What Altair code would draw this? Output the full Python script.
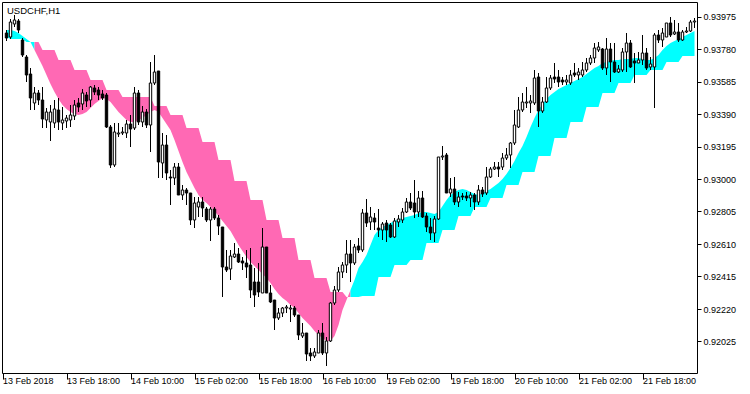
import altair as alt
import pandas as pd

# ---- USDCHF H1 candles (bar 0 = first visible bar) ----
opens = [
0.93876,0.93852,0.93930,0.93948,0.93834,0.93732,0.93630,0.93456,0.93516,0.93474,
0.93354,0.93342,0.93336,0.93414,0.93336,0.93348,0.93354,0.93378,0.93456,0.93450,
0.93504,0.93474,0.93546,0.93534,0.93510,0.93504,0.93312,0.93084,0.93270,0.93276,
0.93276,0.93330,0.93306,0.93516,0.93342,0.93402,0.93324,0.93576,0.93648,0.93096,
0.93204,0.93012,0.93006,0.93072,0.92904,0.92934,0.92916,0.92754,0.92832,0.92862,
0.92820,0.92754,0.92820,0.92766,0.92712,0.92472,0.92460,0.92532,0.92550,0.92508,
0.92496,0.92484,0.92382,0.92382,0.92316,0.92592,0.92316,0.92274,0.92166,0.92196,
0.92226,0.92220,0.92226,0.92184,0.92058,0.92076,0.91956,0.91938,0.91956,0.92076,
0.91956,0.92028,0.92256,0.92334,0.92442,0.92484,0.92550,0.92496,0.92598,0.92574,
0.92796,0.92742,0.92766,0.92706,0.92694,0.92736,0.92724,0.92652,0.92742,0.92754,
0.92802,0.92862,0.92856,0.92802,0.92886,0.92778,0.92712,0.92676,0.92760,0.93132,
0.93144,0.92916,0.92940,0.92862,0.92898,0.92898,0.92886,0.92904,0.92862,0.92934,
0.92916,0.93012,0.93060,0.93072,0.93072,0.93126,0.93144,0.93216,0.93312,0.93414,
0.93456,0.93456,0.93456,0.93612,0.93408,0.93462,0.93546,0.93612,0.93612,0.93594,
0.93582,0.93576,0.93636,0.93624,0.93624,0.93654,0.93696,0.93726,0.93774,0.93780,
0.93666,0.93780,0.93702,0.93642,0.93654,0.93762,0.93816,0.93708,0.93696,0.93714,
0.93756,0.93672,0.93672,0.93864,0.93834,0.93852,0.93936,0.93870,0.93882,0.93834,
0.93882,0.93888,0.93942]
highs = [
0.93894,0.93960,0.93984,0.93960,0.93846,0.93744,0.93666,0.93552,0.93534,0.93552,
0.93426,0.93444,0.93474,0.93486,0.93432,0.93384,0.93444,0.93474,0.93486,0.93540,
0.93522,0.93558,0.93564,0.93552,0.93534,0.93516,0.93324,0.93336,0.93336,0.93312,
0.93354,0.93384,0.93552,0.93534,0.93438,0.93420,0.93702,0.93744,0.93648,0.93276,
0.93264,0.93054,0.93096,0.93096,0.92964,0.92946,0.92916,0.92892,0.92892,0.92892,
0.92832,0.92832,0.92832,0.92784,0.92712,0.92574,0.92574,0.92616,0.92586,0.92532,
0.92574,0.92586,0.92466,0.92496,0.92706,0.92592,0.92364,0.92274,0.92226,0.92232,
0.92244,0.92244,0.92238,0.92184,0.92136,0.92076,0.91986,0.91986,0.92094,0.92136,
0.92052,0.92262,0.92358,0.92472,0.92502,0.92634,0.92634,0.92610,0.92646,0.92820,
0.92880,0.92832,0.92796,0.92820,0.92742,0.92754,0.92736,0.92766,0.92784,0.92826,
0.92886,0.92916,0.92994,0.92928,0.92928,0.92796,0.92766,0.92778,0.93132,0.93198,
0.93156,0.93006,0.93012,0.92922,0.92916,0.92922,0.92922,0.92916,0.92964,0.92952,
0.93072,0.93072,0.93102,0.93102,0.93156,0.93186,0.93222,0.93414,0.93492,0.93516,
0.93552,0.93504,0.93654,0.93636,0.93492,0.93612,0.93624,0.93696,0.93654,0.93612,
0.93624,0.93654,0.93696,0.93666,0.93702,0.93726,0.93744,0.93816,0.93822,0.93786,
0.93846,0.93816,0.93816,0.93684,0.93786,0.93876,0.93834,0.93756,0.93762,0.93864,
0.93786,0.93732,0.93876,0.93894,0.93906,0.93936,0.93972,0.93954,0.93936,0.93894,
0.93912,0.93954,0.93966]
lows = [
0.93828,0.93840,0.93912,0.93876,0.93732,0.93582,0.93414,0.93414,0.93444,0.93306,
0.93306,0.93228,0.93306,0.93294,0.93294,0.93306,0.93312,0.93354,0.93402,0.93414,
0.93432,0.93432,0.93504,0.93474,0.93474,0.93306,0.93066,0.93072,0.93252,0.93264,
0.93246,0.93192,0.93294,0.93324,0.93312,0.93306,0.93162,0.93564,0.93006,0.93006,
0.92994,0.92844,0.92964,0.92904,0.92874,0.92844,0.92724,0.92706,0.92772,0.92772,
0.92742,0.92628,0.92754,0.92664,0.92292,0.92442,0.92394,0.92526,0.92496,0.92454,
0.92406,0.92286,0.92232,0.92292,0.92316,0.92316,0.92256,0.92094,0.92154,0.92172,
0.92196,0.92142,0.92172,0.92034,0.92046,0.91908,0.91908,0.91926,0.91956,0.91944,
0.91878,0.92022,0.92244,0.92322,0.92406,0.92436,0.92382,0.92484,0.92556,0.92562,
0.92712,0.92694,0.92694,0.92652,0.92634,0.92622,0.92646,0.92646,0.92712,0.92736,
0.92796,0.92814,0.92766,0.92772,0.92766,0.92682,0.92634,0.92622,0.92754,0.93114,
0.92916,0.92892,0.92844,0.92832,0.92874,0.92868,0.92832,0.92814,0.92844,0.92892,
0.92904,0.93006,0.93054,0.93012,0.93054,0.93114,0.93066,0.93204,0.93306,0.93402,
0.93426,0.93396,0.93444,0.93312,0.93396,0.93456,0.93534,0.93576,0.93552,0.93564,
0.93564,0.93564,0.93612,0.93594,0.93612,0.93642,0.93684,0.93696,0.93762,0.93654,
0.93624,0.93582,0.93636,0.93636,0.93642,0.93642,0.93666,0.93576,0.93696,0.93684,
0.93654,0.93654,0.93426,0.93816,0.93792,0.93852,0.93852,0.93864,0.93822,0.93828,
0.93876,0.93882,0.93906]
closes = [
0.93846,0.93942,0.93954,0.93894,0.93744,0.93624,0.93486,0.93516,0.93474,0.93360,
0.93402,0.93402,0.93420,0.93342,0.93354,0.93366,0.93384,0.93444,0.93432,0.93516,
0.93468,0.93552,0.93522,0.93504,0.93486,0.93312,0.93084,0.93282,0.93276,0.93282,
0.93330,0.93300,0.93516,0.93342,0.93402,0.93324,0.93576,0.93642,0.93102,0.93204,
0.93036,0.93006,0.93072,0.92904,0.92934,0.92916,0.92754,0.92856,0.92862,0.92826,
0.92754,0.92820,0.92766,0.92718,0.92472,0.92454,0.92538,0.92550,0.92502,0.92496,
0.92472,0.92334,0.92304,0.92322,0.92592,0.92316,0.92262,0.92166,0.92196,0.92226,
0.92232,0.92226,0.92184,0.92064,0.92076,0.91950,0.91938,0.91962,0.92076,0.91956,
0.92028,0.92256,0.92334,0.92442,0.92484,0.92550,0.92496,0.92592,0.92574,0.92796,
0.92736,0.92772,0.92742,0.92694,0.92730,0.92694,0.92652,0.92748,0.92760,0.92802,
0.92862,0.92826,0.92802,0.92886,0.92772,0.92712,0.92676,0.92760,0.93132,0.93138,
0.92916,0.92940,0.92862,0.92892,0.92892,0.92886,0.92904,0.92862,0.92934,0.92910,
0.93012,0.93060,0.93072,0.93060,0.93126,0.93144,0.93216,0.93324,0.93414,0.93462,
0.93462,0.93468,0.93606,0.93408,0.93462,0.93546,0.93606,0.93600,0.93582,0.93582,
0.93594,0.93624,0.93624,0.93642,0.93654,0.93696,0.93726,0.93786,0.93792,0.93666,
0.93780,0.93702,0.93642,0.93660,0.93762,0.93816,0.93672,0.93696,0.93714,0.93756,
0.93666,0.93690,0.93864,0.93834,0.93876,0.93936,0.93864,0.93882,0.93834,0.93882,
0.93888,0.93942,0.93948]

# ---- indicator: fast smooth line (per H1 bar) and slow line (per H4 bar = 4 H1 bars) ----
fast_line = [
0.93894,0.93894,0.93888,0.93876,0.93858,0.93840,0.93822,0.93774,0.93726,0.93678,
0.93624,0.93570,0.93522,0.93480,0.93444,0.93420,0.93402,0.93390,0.93384,0.93390,
0.93402,0.93426,0.93450,0.93468,0.93486,0.93480,0.93462,0.93432,0.93402,0.93378,
0.93354,0.93342,0.93342,0.93354,0.93366,0.93384,0.93402,0.93414,0.93402,0.93366,
0.93330,0.93294,0.93234,0.93168,0.93102,0.93042,0.92994,0.92946,0.92904,0.92874,
0.92856,0.92832,0.92808,0.92778,0.92748,0.92718,0.92688,0.92646,0.92604,0.92568,
0.92532,0.92502,0.92478,0.92454,0.92430,0.92406,0.92376,0.92340,0.92310,0.92286,
0.92268,0.92244,0.92226,0.92196,0.92166,0.92142,0.92118,0.92088,0.92064,0.92046,
0.92028,0.92028,0.92058,0.92124,0.92214,0.92274,0.92334,0.92394,0.92466,0.92502,
0.92544,0.92604,0.92664,0.92694,0.92712,0.92724,0.92736,0.92748,0.92760,0.92766,
0.92772,0.92778,0.92784,0.92796,0.92802,0.92802,0.92796,0.92790,0.92802,0.92838,
0.92874,0.92904,0.92922,0.92934,0.92940,0.92934,0.92922,0.92910,0.92904,0.92916,
0.92928,0.92940,0.92958,0.92976,0.93000,0.93030,0.93066,0.93108,0.93156,0.93198,
0.93252,0.93312,0.93366,0.93414,0.93450,0.93480,0.93504,0.93522,0.93540,0.93552,
0.93564,0.93576,0.93588,0.93600,0.93612,0.93630,0.93648,0.93666,0.93678,0.93696,
0.93702,0.93708,0.93714,0.93714,0.93720,0.93720,0.93720,0.93726,0.93726,0.93720,
0.93714,0.93714,0.93726,0.93744,0.93774,0.93798,0.93816,0.93828,0.93840,0.93852,
0.93864,0.93876,0.93888]
slow_h4 = [
0.93852,0.93840,0.93822,0.93774,0.93714,0.93654,0.93594,0.93534,0.93492,0.93492,
0.93438,0.93384,0.93306,0.93222,0.93114,0.92988,0.92874,0.92754,0.92646,0.92514,
0.92406,0.92322,0.92292,0.92298,0.92412,0.92484,0.92514,0.92616,0.92694,0.92778,
0.92832,0.92886,0.92964,0.93042,0.93138,0.93246,0.93342,0.93432,0.93516,0.93576,
0.93624,0.93654,0.93702,0.93738]

time_labels = ["13 Feb 2018", "13 Feb 18:00", "14 Feb 10:00", "15 Feb 02:00",
               "15 Feb 18:00", "16 Feb 10:00", "19 Feb 02:00", "19 Feb 18:00",
               "20 Feb 10:00", "21 Feb 02:00", "21 Feb 18:00"]
time_label_bars = [-1, 15, 31, 47, 63, 79, 95, 111, 127, 143, 159]
price_ticks = [0.92025, 0.92220, 0.92415, 0.92610, 0.92805, 0.93000,
               0.93195, 0.93390, 0.93585, 0.93780, 0.93975]

FONT = "Liberation Sans"
n = len(closes)

candles = pd.DataFrame({
    "i": list(range(n)), "o": opens, "h": highs, "l": lows, "c": closes,
    "bull": [c >= o for o, c in zip(opens, closes)],
})

# cloud table: slow H4 value repeated over its four H1 bars, split into coloured segments
slow_line = [slow_h4[(i + 3) // 4] for i in range(n)]
up = [fast_line[i] >= slow_line[i] for i in range(n)]
rows = []
seg = 0
for i in range(n):
    if i > 0 and up[i] != up[i - 1]:
        rows.append({"i": i, "f": fast_line[i], "s": slow_line[i], "seg": seg,
                     "dir": "up" if up[i - 1] else "down"})
        seg += 1
    rows.append({"i": i, "f": fast_line[i], "s": slow_line[i], "seg": seg,
                 "dir": "up" if up[i] else "down"})
cloud = pd.DataFrame(rows)

label_expr = "''"
for b, t in zip(reversed(time_label_bars), reversed(time_labels)):
    label_expr = f"datum.value == {b} ? ' {t}' : ({label_expr})"

xscale = alt.Scale(domain=[-1.125, 172.625], nice=False, zero=False)
yscale = alt.Scale(domain=[0.91836, 0.94062], nice=False, zero=False)

xaxis = alt.Axis(values=time_label_bars, labelExpr=label_expr, title=None, grid=False,
                 domain=False, tickSize=6, tickColor="black", labelAlign="left",
                 labelBaseline="top", labelPadding=-3, labelFlush=False,
                 labelOverlap=False, labelFont=FONT, labelFontSize=9, labelColor="black")
yaxis = alt.Axis(orient="right", values=price_ticks, format=".5f", title=None, grid=False,
                 domain=False, tickSize=4, tickColor="black", labelPadding=2,
                 labelFont=FONT, labelFontSize=9, labelColor="black",
                 labelBaseline="middle", labelOverlap=False, labelFlush=False)

area = alt.Chart(cloud).mark_area(interpolate="linear", opacity=1).encode(
    x=alt.X("i:Q", scale=xscale, axis=xaxis),
    y=alt.Y("s:Q", scale=yscale, axis=yaxis),
    y2="f:Q",
    color=alt.Color("dir:N", scale=alt.Scale(domain=["up", "down"],
                                            range=["#00FFFF", "#FF69B4"]), legend=None),
    detail="seg:N",
)

wicks = alt.Chart(candles).mark_rule(color="black", strokeWidth=1).encode(
    x=alt.X("i:Q", scale=xscale, axis=xaxis),
    y=alt.Y("l:Q", scale=yscale, axis=yaxis),
    y2="h:Q",
)

bodies = alt.Chart(candles).transform_calculate(
    x1="datum.i - 0.3", x2="datum.i + 0.3"
).mark_rect(stroke="black", strokeWidth=1).encode(
    x=alt.X("x1:Q", scale=xscale, axis=xaxis),
    x2="x2:Q",
    y=alt.Y("o:Q", scale=yscale, axis=yaxis),
    y2="c:Q",
    fill=alt.Fill("bull:N", scale=alt.Scale(domain=[True, False], range=["white", "black"]),
                  legend=None),
)

title = alt.Chart(pd.DataFrame({"t": ["USDCHF,H1"]})).mark_text(
    align="left", baseline="top", font=FONT, fontSize=9.5, color="black"
).encode(x=alt.value(5), y=alt.value(4), text="t:N")

chart = alt.layer(area, wicks, bodies, title).properties(
    width=695, height=371,
    padding={"left": 2, "top": 2, "right": 53, "bottom": 21},
    autosize=alt.AutoSizeParams(type="none"),
    background="white",
).configure_view(stroke="black", strokeWidth=1)

chart.save("out.html", embed_options={"renderer": "svg", "actions": False})
